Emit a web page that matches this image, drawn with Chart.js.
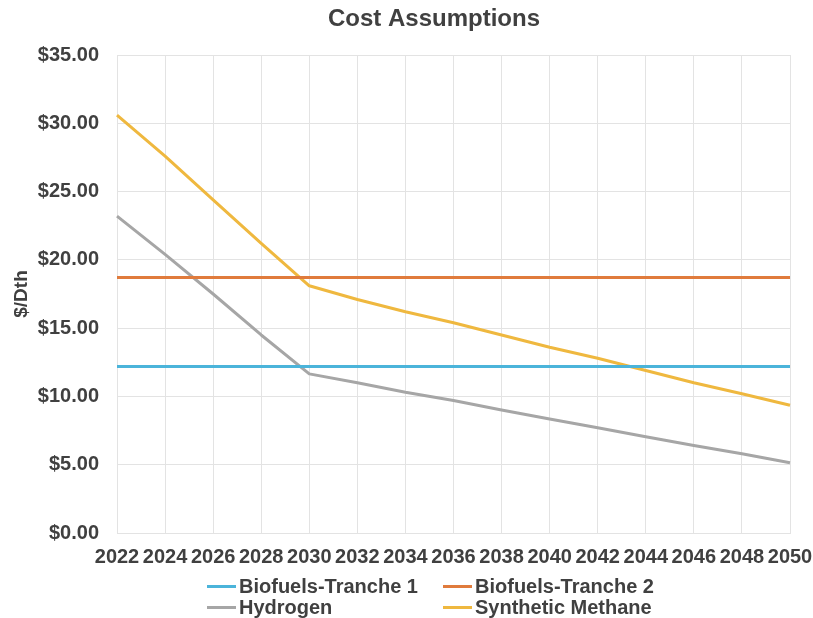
<!DOCTYPE html>
<html>
<head>
<meta charset="utf-8">
<script src="https://cdn.jsdelivr.net/npm/chart.js@4/dist/chart.umd.min.js"></script>
<style>
  html, body { margin: 0; padding: 0; background: #fff; }
  #wrap { position: relative; width: 813px; height: 618px; }
  #chart { position: absolute; left: 0; top: 0; }
  .legend-item {
    position: absolute;
    font: bold 20px 'Liberation Sans', Arial, sans-serif;
    color: #404040;
    line-height: 22px;
    white-space: nowrap;
    display: flex;
    align-items: center;
  }
  .legend-item .swatch {
    display: inline-block;
    width: 29px;
    height: 3px;
    margin-right: 3px;
  }
</style>
</head>
<body>
<div id="wrap">
  <canvas id="chart" width="813" height="618"></canvas>
  <div id="legend"></div>
</div>
<script>
// Cost assumptions by fuel, $/Dth
const TITLE = 'Cost Assumptions';
const Y_TITLE = '$/Dth';

const years = ['2022', '2024', '2026', '2028', '2030', '2032', '2034', '2036',
               '2038', '2040', '2042', '2044', '2046', '2048', '2050'];

const biofuelsTranche1 = [12.2, 12.2, 12.2, 12.2, 12.2, 12.2, 12.2, 12.2,
                          12.2, 12.2, 12.2, 12.2, 12.2, 12.2, 12.2];
const biofuelsTranche2 = [18.7, 18.7, 18.7, 18.7, 18.7, 18.7, 18.7, 18.7,
                          18.7, 18.7, 18.7, 18.7, 18.7, 18.7, 18.7];
const hydrogen = [23.2, 20.4, 17.5, 14.5, 11.65, 11.0, 10.3, 9.7,
                  9.0, 8.35, 7.7, 7.05, 6.4, 5.8, 5.15];
const syntheticMethane = [30.6, 27.6, 24.4, 21.2, 18.1, 17.1, 16.2, 15.4,
                          14.5, 13.6, 12.8, 11.9, 11.0, 10.2, 9.35];

const seriesNames = ['Biofuels-Tranche 1', 'Biofuels-Tranche 2', 'Hydrogen', 'Synthetic Methane'];
const seriesColors = ['#4BB4DA', '#E07B3C', '#A6A6A6', '#EFB83F'];
const seriesValues = [biofuelsTranche1, biofuelsTranche2, hydrogen, syntheticMethane];

const TEXT = '#404040';
const GRID = '#E3E3E3';
Chart.defaults.font.family = "'Liberation Sans', Arial, sans-serif";
Chart.defaults.color = TEXT;

// Title drawn above the plot area
const titlePlugin = {
  id: 'chartTitle',
  afterDraw(chart) {
    const ctx = chart.ctx;
    ctx.save();
    ctx.font = "bold 24px 'Liberation Sans', Arial, sans-serif";
    ctx.fillStyle = TEXT;
    ctx.textAlign = 'center';
    ctx.textBaseline = 'middle';
    ctx.fillText(TITLE, 434, 19);
    ctx.restore();
  }
};

new Chart(document.getElementById('chart'), {
  type: 'line',
  data: {
    labels: years,
    datasets: seriesNames.map((name, i) => ({
      label: name,
      data: seriesValues[i],
      borderColor: seriesColors[i],
      backgroundColor: seriesColors[i],
      borderWidth: 3,
      pointRadius: 0,
      tension: 0,
      borderJoinStyle: 'round',
      fill: false
    }))
  },
  options: {
    responsive: false,
    animation: false,
    layout: { padding: { top: 55, right: 23, bottom: 50, left: 0 } },
    plugins: {
      legend: { display: false },
      title: { display: false },
      tooltip: { enabled: false }
    },
    scales: {
      x: {
        offset: false,
        grid: { color: GRID, lineWidth: 1, drawTicks: false, offset: false },
        border: { color: GRID },
        ticks: {
          autoSkip: false,
          maxRotation: 0,
          minRotation: 0,
          padding: 12,
          color: TEXT,
          font: { size: 20, weight: 'bold' }
        },
        afterFit(scale) {
          scale.height = 35;
          // the end labels may hang into the page margins
          scale.paddingLeft = 0;
          scale.paddingRight = 0;
        }
      },
      y: {
        min: 0,
        max: 35,
        grid: { color: GRID, lineWidth: 1, drawTicks: false },
        border: { display: false },
        ticks: {
          stepSize: 5,
          padding: 18,
          color: TEXT,
          font: { size: 20, weight: 'bold' },
          callback: v => '$' + Number(v).toFixed(2)
        },
        title: {
          display: true,
          text: Y_TITLE,
          color: TEXT,
          font: { size: 19, weight: 'bold' },
          padding: { top: 10, bottom: 0 }
        },
        afterFit(scale) { scale.width = 117; }
      }
    }
  },
  plugins: [titlePlugin]
});

// Two-column legend under the axis
const legendPos = [[207, 575], [443, 575], [207, 596], [443, 596]];
const legend = document.getElementById('legend');
seriesNames.forEach((name, i) => {
  const item = document.createElement('div');
  item.className = 'legend-item';
  item.style.left = legendPos[i][0] + 'px';
  item.style.top = legendPos[i][1] + 'px';
  const sw = document.createElement('span');
  sw.className = 'swatch';
  sw.style.background = seriesColors[i];
  item.appendChild(sw);
  item.appendChild(document.createTextNode(name));
  legend.appendChild(item);
});
</script>
</body>
</html>
